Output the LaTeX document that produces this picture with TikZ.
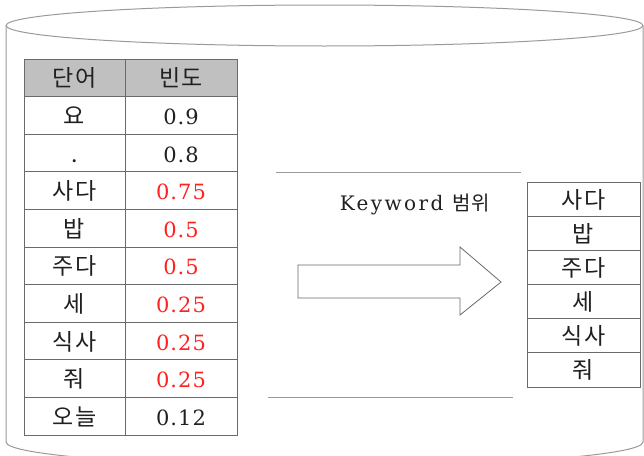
\documentclass[tikz,border=0pt]{standalone}
\usepackage{fontspec}
\setmainfont{DejaVu Serif}[LetterSpace=5]
\newfontfamily\kr{Noto Sans CJK KR}[LetterSpace=6]
\definecolor{cylline}{HTML}{9A9A9A}
\definecolor{tabline}{HTML}{6A6A6A}
\definecolor{hdrfill}{HTML}{C0C0C0}
\definecolor{valred}{HTML}{FF2020}
\definecolor{txt}{HTML}{202020}
\begin{document}
\begin{tikzpicture}[x=1pt,y=-1pt,
  cyl/.style={draw=cylline, line width=1pt},
  cell/.style={draw=tabline, line width=0.8pt, inner sep=0pt, anchor=center,
    text height=20pt, text depth=2pt,
    text=txt, font=\fontsize{21}{24}\selectfont},
  krfont/.style={font=\kr\fontsize{23}{26}\selectfont},
  wcell/.style={cell, minimum width=101pt, minimum height=37.6pt, krfont},
  vcell/.style={cell, minimum width=112pt, minimum height=37.6pt},
  hdr/.style={fill=hdrfill},
  red/.style={text=valred},
  kcell/.style={cell, minimum width=113pt, minimum height=34.17pt, krfont},
  sep/.style={draw=cylline, line width=1pt},
  bigarrow/.style={draw=tabline, line width=0.8pt, fill=white}
]
\useasboundingbox (0,0) rectangle (644,455);
% cylinder
\begin{scope}
\clip (0,0) rectangle (644,455);
\draw[cyl] (324.5,25.5) ellipse [x radius=318.5, y radius=20.5];
\draw[cyl] (6,26) -- (6,442) arc[start angle=180, end angle=0, x radius=318.5, y radius=24] -- (643,26);
\end{scope}
% left table
\foreach \i/\w/\v/\s in {0/단어/빈도/hdr, 1/요/0.9/, 2/./0.8/, 3/사다/0.75/red, 4/밥/0.5/red,
  5/주다/0.5/red, 6/세/0.25/red, 7/식사/0.25/red, 8/줘/0.25/red, 9/오늘/0.12/} {
  \pgfmathsetmacro{\yy}{59+37.6*\i+18.8}
  \ifnum\i=0
    \node[wcell, hdr] (w\i) at (74.5,\yy) {\w};
    \node[vcell, hdr, krfont] (v\i) at (181,\yy) {\v};
  \else
    \node[wcell] (w\i) at (74.5,\yy) {\w};
    \node[vcell, \s] (v\i) at (181,\yy) {\v};
  \fi
}
% right table
\foreach \i/\w in {0/사다, 1/밥, 2/주다, 3/세, 4/식사, 5/줘} {
  \pgfmathsetmacro{\yy}{182+34.17*\i+17.08}
  \node[kcell] (k\i) at (583.5,\yy) {\w};
}
% separator lines
\coordinate (t1) at (276,172); \coordinate (t2) at (521,172);
\coordinate (b1) at (268,397); \coordinate (b2) at (513,397);
\draw[sep] (t1) -- (t2);
\draw[sep] (b1) -- (b2);
% label
\node[anchor=center, text=txt, font=\fontsize{20}{24}\selectfont\addfontfeature{LetterSpace=12}] (kw) at (415,204) {Keyword {\kr\addfontfeature{LetterSpace=6} 범위}};
% arrow
\draw[bigarrow] (298,265) -- (460,265) -- (460,247) -- (501,282) -- (460,315) -- (460,298) -- (298,298) -- cycle;
\end{tikzpicture}
\end{document}
